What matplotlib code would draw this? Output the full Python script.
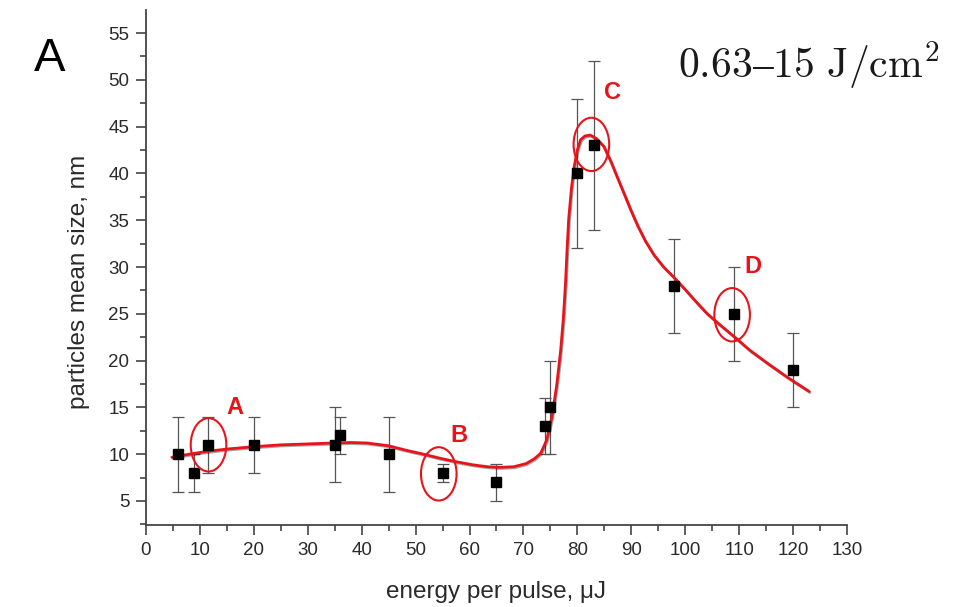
import numpy as np
import matplotlib
matplotlib.use("Agg")
import matplotlib.pyplot as plt
from matplotlib.patches import Ellipse
from matplotlib.ticker import MultipleLocator
import matplotlib.patheffects as pe

plt.rcParams['font.family'] = ['Liberation Sans', 'DejaVu Sans']
plt.rcParams['mathtext.fontset'] = 'cm'

# measured points: energy per pulse (uJ), mean size (nm), error bar bounds
energy = [6, 9, 11.5, 20, 35, 36, 45, 55, 65, 74, 75, 80, 83, 98, 109, 120]
size = [10, 8, 11, 11, 11, 12, 10, 8, 7, 13, 15, 40, 43, 28, 25, 19]
err_low = [6, 6, 8, 8, 7, 10, 6, 7, 5, 10, 10, 32, 34, 23, 20, 15]
err_high = [14, 10, 14, 14, 15, 14, 14, 9, 9, 16, 20, 48, 52, 33, 30, 23]

# fitted curve
fit_x = [4.8, 8, 11.3, 15, 19.9, 25, 30, 34.8, 38, 41, 45, 48.4, 51.5, 54.6,
         57.5, 60.8, 63.5, 65.7, 68.2, 70.5, 72, 73.2, 74.3, 75.3, 76.2, 76.9,
         77.4, 77.8, 78.1, 78.4, 78.9, 79.4, 80, 80.6, 81.4, 82.4, 83.6, 84.9,
         86.2, 87.4, 88.7, 89.9, 91.2, 92.6, 94.2, 96, 97.9, 100, 102, 104.1,
         106.5, 109, 112, 115.3, 119, 123]
fit_y = [9.67, 10.0, 10.3, 10.55, 10.8, 11.0, 11.1, 11.2, 11.25, 11.2, 10.9,
         10.4, 10.0, 9.56, 9.2, 8.85, 8.65, 8.6, 8.66, 9.0, 9.5, 10.1, 11.5,
         14.0, 17.5, 21.1, 24.5, 28.3, 32.0, 35.2, 38.4, 40.7, 42.5, 43.6,
         44.0, 44.1, 43.7, 42.9, 41.3, 39.6, 37.8, 36.1, 34.4, 32.8, 31.3,
         30.0, 28.9, 27.6, 26.3, 25.0, 23.8, 22.6, 21.1, 19.7, 18.2, 16.7]

# highlighted samples
mark_labels = ['A', 'B', 'C', 'D']
mark_x = [11.6, 54.3, 82.6, 108.7]
mark_y = [11.0, 7.9, 43.1, 24.9]
label_x = [16.5, 58.0, 86.5, 112.5]
label_y = [15.0, 12.0, 48.7, 30.1]

fig = plt.figure(figsize=(9.59, 6.07), dpi=100)
ax = fig.add_axes([0.1522, 0.1351, 0.7310, 0.8484])

ax.errorbar(energy, size,
            yerr=[np.array(size) - np.array(err_low), np.array(err_high) - np.array(size)],
            fmt='none', ecolor='#555555', elinewidth=0.9, capsize=4.5, capthick=0.9,
            zorder=2)
ax.plot(fit_x, fit_y, color='#e8141b', lw=2.0, solid_capstyle='round',
        solid_joinstyle='round', zorder=3,
        path_effects=[pe.SimpleLineShadow(offset=(0.6, -0.8), alpha=0.35), pe.Normal()])
ax.plot(energy, size, 's', color='black', ms=6.5, zorder=4)

for lab, mx, my, lx, ly in zip(mark_labels, mark_x, mark_y, label_x, label_y):
    ax.add_patch(Ellipse((mx, my), 6.6, 5.7, fill=False, edgecolor='#e8141b',
                         lw=1.5, zorder=5))
    ax.text(lx, ly, lab, color='#e8141b', fontsize=17, fontweight='bold',
            ha='center', va='center', zorder=6)

ax.set_xlim(0, 130)
ax.set_ylim(2.436, 57.46)
ax.xaxis.set_major_locator(MultipleLocator(10))
ax.xaxis.set_minor_locator(MultipleLocator(5))
ax.yaxis.set_minor_locator(MultipleLocator(2.5))
ax.set_yticks(np.arange(5, 56, 5))

for side in ['top', 'right']:
    ax.spines[side].set_visible(False)
for side in ['left', 'bottom']:
    ax.spines[side].set_color('#444444')
    ax.spines[side].set_linewidth(1.3)
ax.tick_params(which='major', direction='out', length=7, width=1.2,
               colors='#444444', labelcolor='#2a2a2a', labelsize=13.5, pad=5)
ax.tick_params(which='minor', direction='out', length=4, width=1.2, colors='#444444')

ax.set_xlabel('energy per pulse, \u03bcJ', fontsize=17.5, color='#2a2a2a')
ax.set_ylabel('particles mean size, nm', fontsize=17.5, color='#2a2a2a')
ax.xaxis.set_label_coords(0.5, -0.108)
ax.yaxis.set_label_coords(-0.08, 0.472)

fig.text(0.035, 0.903, 'A', fontsize=34, ha='left', va='center')
fig.text(0.8436, 0.893, '$\\mathrm{0.63\\text{\u2013}15\\ J/cm^2}$', fontsize=30,
         ha='center', va='center', color='#1a1a1a')

fig.savefig('out.png', dpi=100)
